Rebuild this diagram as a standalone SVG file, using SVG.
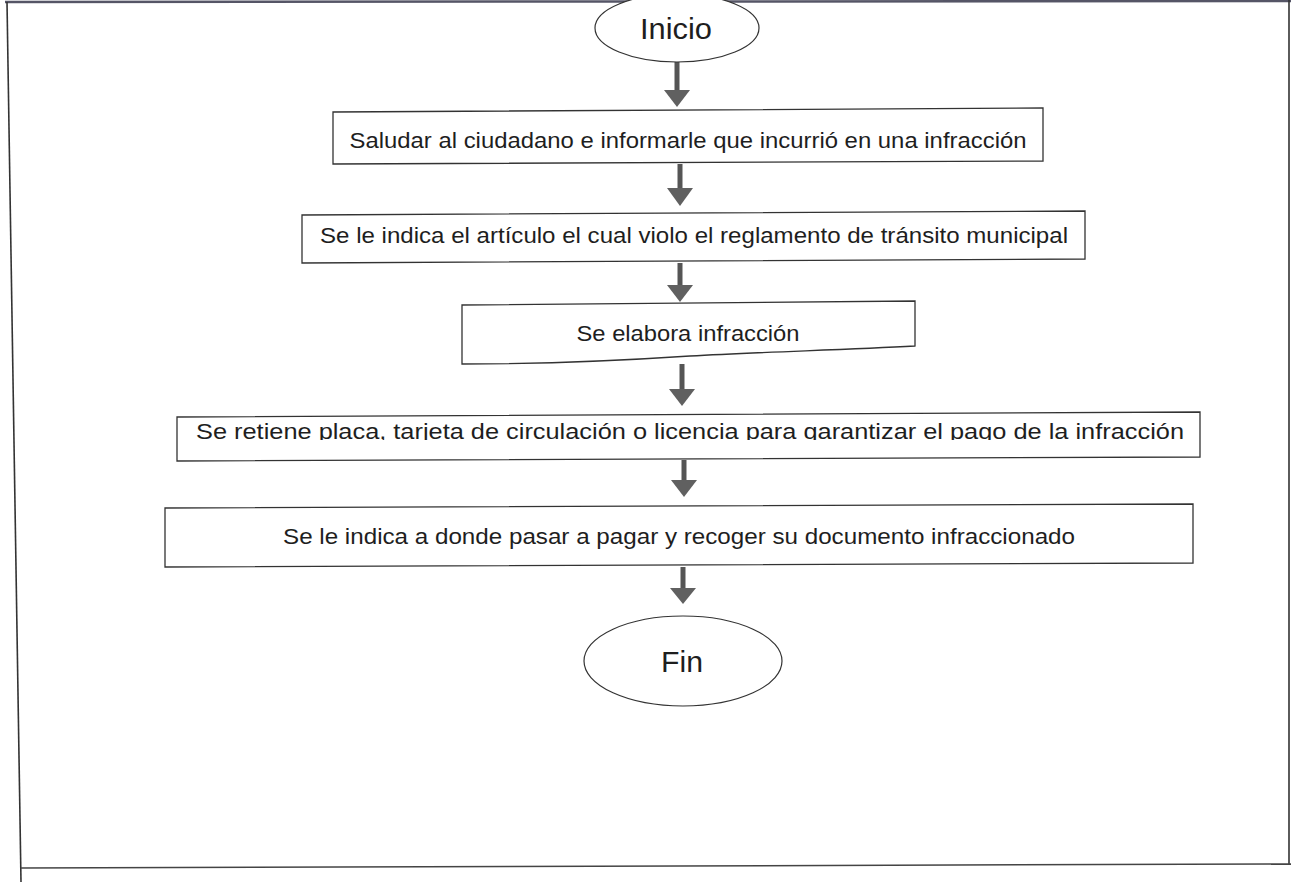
<svg xmlns="http://www.w3.org/2000/svg" width="1291" height="882" viewBox="0 0 1291 882">
<style>
.bx{fill:#fff;stroke:#333;stroke-width:1.3}
.el{fill:#fff;stroke:#333;stroke-width:1.2}
.t{font-family:"Liberation Sans",Arial,sans-serif;fill:#1e1e1e;text-anchor:middle}
.s{font-size:22px}
.b{font-size:30px}
.sh{stroke:#555;stroke-width:5;fill:none}
.hd{fill:#606060}
.fr{stroke:#333;stroke-width:1.6;fill:none}
</style>
<defs>
<clipPath id="clip4"><rect x="170" y="410" width="1040" height="30"/></clipPath>
</defs>
<rect width="1291" height="882" fill="#fff"/>
<g id="frame">
<line x1="5" y1="2" x2="1291" y2="1" stroke="#556" stroke-width="2.5"/>
<line class="fr" x1="7" y1="2" x2="21" y2="882"/>
<line class="fr" x1="1289" y1="0" x2="1289" y2="865"/>
<line x1="21" y1="868" x2="1291" y2="864" stroke="#444" stroke-width="1.5"/>
</g>
<g id="connectors">
<line class="sh" x1="677" y1="62" x2="677" y2="92"/><polygon class="hd" points="664,90 690,90 677,107"/>
<line class="sh" x1="680" y1="164" x2="680" y2="190"/><polygon class="hd" points="667,188 693,188 680,206"/>
<line class="sh" x1="680" y1="263" x2="680" y2="287"/><polygon class="hd" points="667,285 693,285 680,302"/>
<line class="sh" x1="682" y1="364" x2="682" y2="391"/><polygon class="hd" points="669,389 695,389 682,406"/>
<line class="sh" x1="684" y1="460" x2="684" y2="482"/><polygon class="hd" points="671,480 697,480 684,497"/>
<line class="sh" x1="683" y1="567" x2="683" y2="590"/><polygon class="hd" points="670,588 696,588 683,604"/>
</g>
<g id="inicio">
<ellipse class="el" cx="677" cy="28" rx="82" ry="34"/>
<text class="t b" x="676" y="39" textLength="72" lengthAdjust="spacingAndGlyphs">Inicio</text>
</g>
<g id="paso1">
<polygon class="bx" points="333,112 1043,108 1043,161 333,164"/>
<text class="t s" x="688" y="148" textLength="677" lengthAdjust="spacingAndGlyphs">Saludar al ciudadano e informarle que incurrió en una infracción</text>
</g>
<g id="paso2">
<polygon class="bx" points="302,215 1085,211 1085,259 302,263"/>
<text class="t s" x="694" y="243" textLength="748" lengthAdjust="spacingAndGlyphs">Se le indica el artículo el cual violo el reglamento de tránsito municipal</text>
</g>
<g id="paso3">
<path class="bx" d="M462,305 L915,301 L915,346 C840,350 760,352 690,356 C600,362 520,364 462,364 Z"/>
<text class="t s" x="688" y="341" textLength="223" lengthAdjust="spacingAndGlyphs">Se elabora infracción</text>
</g>
<g id="paso4">
<polygon class="bx" points="177,417 1200,412 1200,457 177,461"/>
<text class="t s" x="690" y="439" textLength="988" lengthAdjust="spacingAndGlyphs" clip-path="url(#clip4)">Se retiene placa, tarjeta de circulación o licencia para garantizar el pago de la infracción</text>
</g>
<g id="paso5">
<polygon class="bx" points="165,508 1193,504 1193,563 165,567"/>
<text class="t s" x="679" y="544" textLength="792" lengthAdjust="spacingAndGlyphs">Se le indica a donde pasar a pagar y  recoger su documento infraccionado</text>
</g>
<g id="fin">
<ellipse class="el" cx="683" cy="661" rx="99" ry="45"/>
<text class="t b" x="682" y="672" textLength="42" lengthAdjust="spacingAndGlyphs">Fin</text>
</g>
</svg>
